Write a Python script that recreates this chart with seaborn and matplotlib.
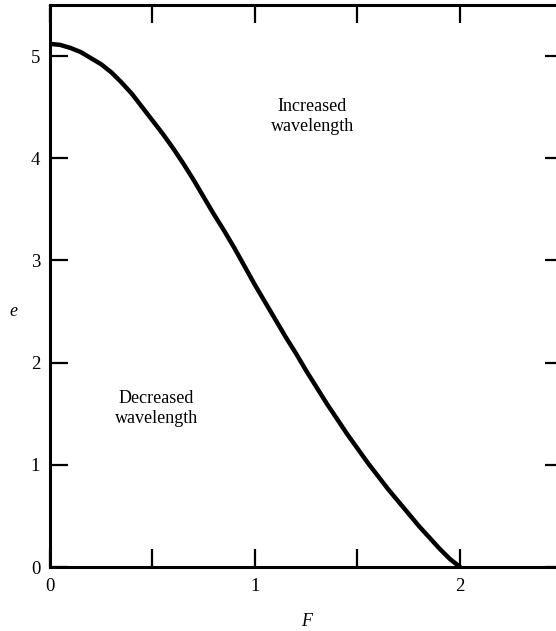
import matplotlib
matplotlib.use("Agg")
import matplotlib.pyplot as plt
import pandas as pd
import seaborn as sns

# curve (every 0.05 in F)
F_VALS = [0.0, 0.05, 0.1, 0.15, 0.2, 0.25, 0.3, 0.35, 0.4, 0.45, 0.5,
          0.55, 0.6, 0.65, 0.7, 0.75, 0.8, 0.85, 0.9, 0.95, 1.0,
          1.05, 1.1, 1.15, 1.2, 1.25, 1.3, 1.35, 1.4, 1.45, 1.5,
          1.55, 1.6, 1.65, 1.7, 1.75, 1.8, 1.85, 1.9, 1.95, 2.0]
E_VALS = [5.12, 5.11, 5.08, 5.04, 4.98, 4.92, 4.84, 4.74, 4.63, 4.50, 4.37,
          4.24, 4.10, 3.95, 3.79, 3.62, 3.45, 3.29, 3.12, 2.94, 2.76,
          2.59, 2.42, 2.25, 2.09, 1.92, 1.76, 1.60, 1.45, 1.30, 1.16,
          1.02, 0.89, 0.76, 0.64, 0.52, 0.40, 0.29, 0.18, 0.08, 0.0]

X_TICKS = [0, 0.5, 1, 1.5, 2]
X_TICK_LABELS = ["0", "", "1", "", "2"]
Y_TICKS = [0, 1, 2, 3, 4, 5]

REGION_TEXT = ["Increased\nwavelength", "Decreased\nwavelength"]
REGION_POS = [(1.28, 4.41), (0.52, 1.55)]

sns.set_style("ticks")
plt.rcParams["font.family"] = ["Liberation Serif", "DejaVu Serif"]
plt.rcParams["text.color"] = "black"
plt.rcParams["axes.labelcolor"] = "black"

df = pd.DataFrame({"F": F_VALS, "e": E_VALS})

fig = plt.figure(figsize=(5.56, 6.31), dpi=100)
ax = fig.add_axes([0.0899, 0.1014, 0.9218, 0.8906])

sns.lineplot(data=df, x="F", y="e", ax=ax, color="black", linewidth=3.2,
             sort=False)

ax.set_xlim(0, 2.5)
ax.set_ylim(0, 5.5)
ax.set_xticks(X_TICKS)
ax.set_xticklabels(X_TICK_LABELS)
ax.set_yticks(Y_TICKS)
ax.tick_params(direction="in", length=13, width=1.6, labelsize=13.5,
               top=True, right=True, colors="black", labelcolor="black")
ax.tick_params(axis="x", pad=8)
ax.tick_params(axis="y", pad=7)

for s in ax.spines.values():
    s.set_linewidth(2.2)
    s.set_color("black")
    s.set_visible(True)

for txt, (x, y) in zip(REGION_TEXT, REGION_POS):
    ax.text(x, y, txt, ha="center", va="center", fontsize=13,
            linespacing=1.2, color="black")

ax.set_xlabel("F", fontsize=13, fontstyle="italic")
ax.xaxis.set_label_coords(0.5, -0.082)
ax.set_ylabel("e", fontsize=13, fontstyle="italic", rotation=0,
              ha="center", va="center")
ax.yaxis.set_label_coords(-0.072, 0.454)

fig.savefig("out.png", dpi=100)
